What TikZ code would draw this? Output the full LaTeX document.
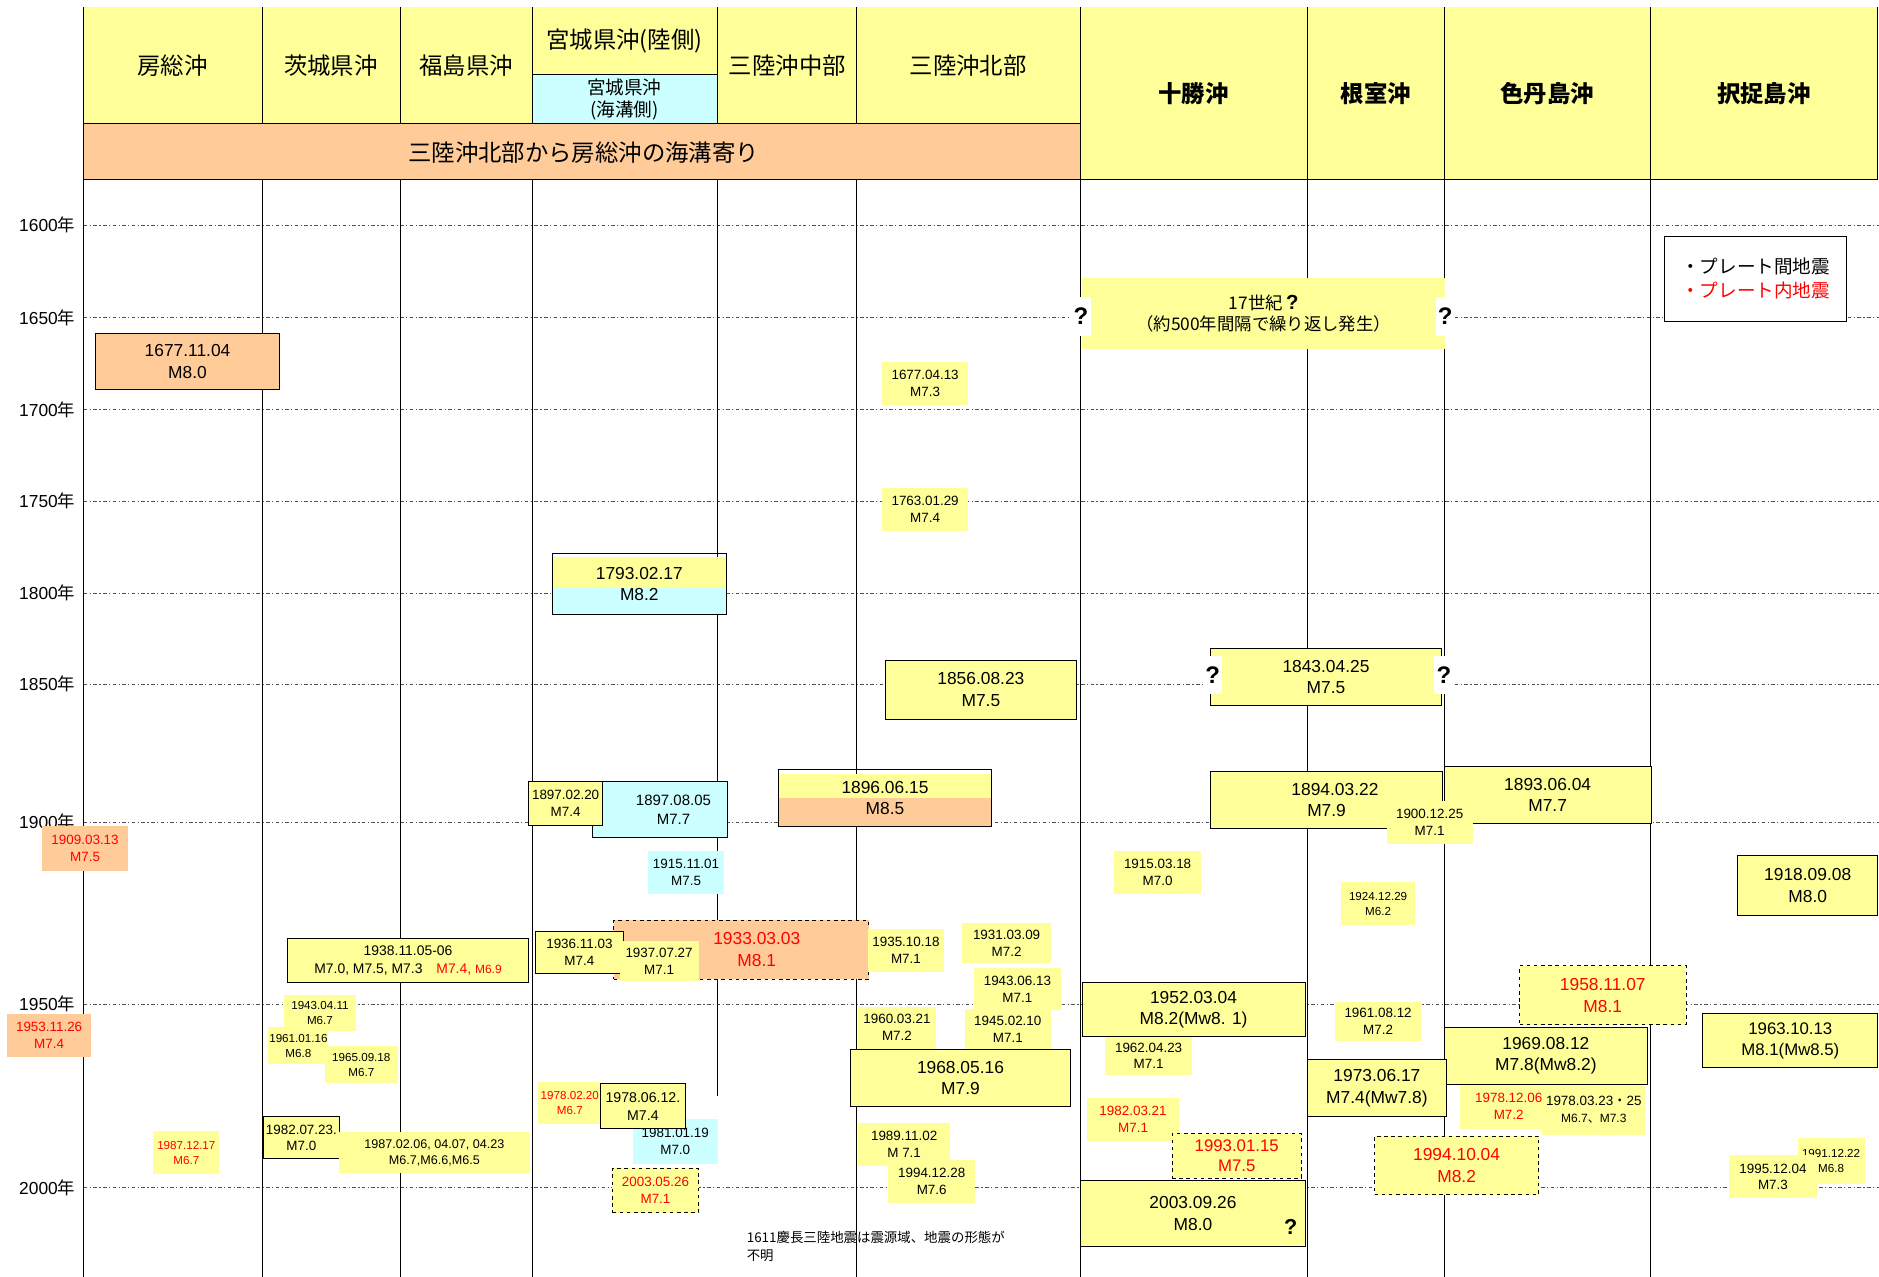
\documentclass[tikz,border=0pt]{standalone}
\usepackage{fontspec}
\setmainfont{Liberation Sans}
\newfontfamily\jp{Noto Sans CJK JP}
\definecolor{cY}{HTML}{FFFF99}
\definecolor{cO}{HTML}{FFCC99}
\definecolor{cC}{HTML}{CCFFFF}
\definecolor{cG}{HTML}{505050}
\tikzset{
  ev/.style={inner sep=0pt, outer sep=0pt, align=center},
  yb/.style={fill=cY},
  ob/.style={fill=cO},
  cb/.style={fill=cC},
  bd/.style={draw=black, line width=0.8pt},
  dsh/.style={draw=black, dashed, line width=0.7pt},
  fL/.style={font=\fontsize{14.5}{18}\selectfont},
  fM/.style={font=\fontsize{12.5}{16}\selectfont},
  fS/.style={font=\fontsize{11.2}{14}\selectfont},
  fX/.style={font=\fontsize{9.7}{12.5}\selectfont},
  rd/.style={text=red},
  hdr/.style={font=\jp\fontsize{19.5}{23}\selectfont, inner sep=0pt},
  hdrb/.style={font=\jp\bfseries\fontsize{19.5}{23}\selectfont, inner sep=0pt},
  yrlab/.style={anchor=east, inner sep=0pt, font=\fontsize{14.5}{16}\selectfont},
  yrline/.style={draw=cG, line width=0.6pt, dash pattern=on 3pt off 2pt on 1pt off 2pt},
  vline/.style={draw=black, line width=0.8pt},
  qbox/.style={fill=white, inner xsep=2pt, inner ysep=0pt, minimum height=32pt, font=\bfseries\fontsize{20}{20}\selectfont},
}
\newcommand{\evt}[7]{\node[ev,#6,minimum width={#4-#2},minimum height={#5-#3}] (#1) at ({(#2+#4)/2},{(#3+#5)/2}) {#7};}
\newcommand{\qm}[3]{\node[qbox] (#1) at (#2,#3) {?};}
\begin{document}
\begin{tikzpicture}[x=1pt,y=-1pt]
\useasboundingbox (0,0) rectangle (1568,1065.6);
% ---------- header ----------
\fill[cY] (70,6) rectangle (1567,150);
\fill[cC] (444,62) rectangle (599,103);
\fill[cO] (70,103) rectangle (902,150);
\foreach \xx in {219,334,444,599,715} \draw[vline] (\xx,6) -- (\xx,103);
\draw[vline] (1567,6) -- (1567,150);
\draw[vline] (444,62) -- (599,62);
\draw[vline] (70,103) -- (902,103);
\draw[vline] (70,150) -- (1567,150);
\node[hdr] (h1) at (144,55) {房総沖};
\node[hdr] (h2) at (276,55) {茨城県沖};
\node[hdr] (h3) at (389,55) {福島県沖};
\node[hdr] (h4) at (521,34) {宮城県沖(陸側)};
\node[hdr, font=\jp\fontsize{15.5}{18.5}\selectfont, align=center] (h4b) at (521,83) {宮城県沖\\(海溝側)};
\node[hdr] (h5) at (657,55) {三陸沖中部};
\node[hdr] (h6) at (808,55) {三陸沖北部};
\node[hdr] (hband) at (487,127) {三陸沖北部から房総沖の海溝寄り};
\node[hdrb] (h7) at (996,78) {十勝沖};
\node[hdrb] (h8) at (1148,78) {根室沖};
\node[hdrb] (h9) at (1291,78) {色丹島沖};
\node[hdrb] (h10) at (1472,78) {択捉島沖};
% ---------- year grid ----------
\foreach \yy/\lab in {188/1600,265/1650,342/1700,418/1750,495/1800,571/1850,686/1900,838/1950,991/2000}{
  \draw[yrline] (70,\yy) -- (1568,\yy);
  \node[yrlab] (y\lab) at (63,\yy) {\lab{\jp 年}};
}
% ---------- vertical column lines ----------
\foreach \xx in {70,902,1091,1205,1377} \draw[vline] (\xx,6) -- (\xx,1066);
\foreach \xx in {219,334,444,715} \draw[vline] (\xx,150) -- (\xx,1066);
\draw[vline] (599,150) -- (599,915);
% ---------- events ----------
\evt{b1677a}{80}{278}{233}{325}{ob,bd,fL}{1677.11.04\\M8.0}
\evt{b1677b}{736}{302}{808}{338}{yb,fS}{1677.04.13\\M7.3}
\evt{b1763}{736}{407}{808}{443}{yb,fS}{1763.01.29\\M7.4}
\evt{b17c}{903}{232}{1206}{291}{yb,font=\jp\fontsize{14.5}{18}\selectfont}{17世紀{\rmfamily\bfseries\fontsize{17}{18}\selectfont\,?}\\（約500年間隔で繰り返し発生）}
\qm{q1}{902}{264}
\qm{q2}{1206}{264}
\evt{legend}{1389}{197}{1541}{268}{fill=white,bd,align=left,font=\jp\fontsize{15.5}{19.5}\selectfont}{・プレート間地震\\\textcolor{red}{・プレート内地震}}
\fill[cY] (461,465) rectangle (606,491);
\fill[cC] (461,491) rectangle (606,513);
\evt{b1793}{461}{462}{606}{513}{bd,fL}{1793.02.17\\M8.2}
\evt{b1856}{739}{551}{898}{600}{yb,bd,fL}{1856.08.23\\M7.5}
\evt{b1843}{1010}{541}{1203}{589}{yb,bd,fL}{1843.04.25\\M7.5}
\qm{q3}{1012}{563}
\qm{q4}{1205}{563}
\evt{b1897b}{494}{652}{607}{699}{cb,bd}{}
\node[ev,fM] (t1897b) at (562,676) {1897.08.05\\M7.7};
\evt{b1897a}{441}{652}{503}{689}{yb,bd,fS}{1897.02.20\\M7.4}
\fill[cY] (650,646) rectangle (827,666);
\fill[cO] (650,666) rectangle (827,690);
\evt{b1896}{650}{642}{827}{690}{bd,fL}{1896.06.15\\M8.5}
\evt{b1894}{1010}{644}{1204}{691}{yb,bd,fL}{\hspace*{14pt}1894.03.22\\M7.9}
\evt{b1893}{1205}{640}{1378}{687}{yb,bd,fL}{1893.06.04\\M7.7}
\evt{b1900}{1157}{668}{1229}{704}{yb,fS}{1900.12.25\\M7.1}
\evt{b1909}{35}{689}{107}{727}{ob,rd,fS}{1909.03.13\\M7.5}
\evt{b1915a}{541}{710}{604}{746}{cb,fS}{1915.11.01\\M7.5}
\evt{b1915b}{930}{710}{1002}{746}{yb,fS}{1915.03.18\\M7.0}
\evt{b1918}{1450}{714}{1567}{764}{yb,bd,fL}{1918.09.08\\M8.0}
\evt{b1924}{1119}{736}{1181}{772}{yb,fX}{1924.12.29\\M6.2}
\evt{b1931}{803}{770}{877}{804}{yb,fS}{1931.03.09\\M7.2}
\evt{b1933}{512}{768}{725}{817}{ob,dsh,rd,fL}{\hspace*{26pt}1933.03.03\\\hspace*{26pt}M8.1}
\evt{b1936}{447}{777}{520}{812}{yb,bd,fS}{1936.11.03\\M7.4}
\evt{b1937}{517}{785}{583}{819}{yb,fS}{1937.07.27\\M7.1}
\evt{b1935}{724}{775}{788}{811}{yb,fS}{1935.10.18\\M7.1}
\evt{b1938}{240}{783}{441}{820}{yb,bd,font=\fontsize{11.6}{15}\selectfont}{1938.11.05-06\\M7.0, M7.5, M7.3\quad\textcolor{red}{M7.4, {\fontsize{10}{12}\selectfont M6.9}}}
\evt{b1943a}{813}{808}{885}{843}{yb,fS}{1943.06.13\\M7.1}
\evt{b1943b}{237}{830}{297}{860}{yb,fX}{1943.04.11\\M6.7}
\evt{b1952}{903}{820}{1089}{865}{yb,bd,fL}{1952.03.04\\M8.2(Mw8. 1)}
\evt{b1953}{6}{846}{76}{882}{ob,rd,fS}{1953.11.26\\M7.4}
\evt{b1958}{1268}{806}{1407}{855}{yb,dsh,rd,fL}{1958.11.07\\M8.1}
\evt{b1960}{716}{840}{781}{875}{yb,fS}{1960.03.21\\M7.2}
\evt{b1945}{805}{842}{877}{876}{yb,fS}{1945.02.10\\M7.1}
\evt{b1961a}{224}{857}{274}{888}{yb,fX}{1961.01.16\\M6.8}
\evt{b1965}{271}{873}{332}{904}{yb,fX}{1965.09.18\\M6.7}
\evt{b1961b}{1114}{836}{1186}{869}{yb,fS}{1961.08.12\\M7.2}
\evt{b1963}{1421}{846}{1567}{891}{yb,bd,font=\fontsize{14}{18}\selectfont}{1963.10.13\\M8.1(Mw8.5)}
\evt{b1962}{922}{865}{995}{897}{yb,fS}{1962.04.23\\M7.1}
\evt{b1968}{710}{876}{893}{923}{yb,bd,fL}{1968.05.16\\M7.9}
\evt{b1969}{1205}{857}{1375}{905}{yb,bd,fL}{1969.08.12\\M7.8(Mw8.2)}
\evt{b1973}{1091}{884}{1207}{932}{yb,bd,fL}{1973.06.17\\M7.4(Mw7.8)}
\evt{b1978a}{449}{903}{502}{938}{yb,rd,fX}{1978.02.20\\M6.7}
\evt{b1981}{528}{934}{599}{971}{cb,fS}{1981.01.19\\M7.0}
\evt{b1978b}{501}{904}{572}{942}{yb,bd,font=\fontsize{11.8}{15}\selectfont}{1978.06.12.\\M7.4}
\evt{b1982a}{907}{916}{984}{952}{yb,rd,fS}{1982.03.21\\M7.1}
\evt{b1978c}{1218}{905}{1300}{942}{yb,rd,fS}{1978.12.06\\M7.2}
\evt{b1978d}{1287}{905}{1373}{947}{yb,fS}{1978.03.23{\jp ・}25\\{\fontsize{10}{12}\selectfont M6.7{\jp 、}M7.3}}
\evt{b1982b}{220}{932}{283}{967}{yb,bd,fS}{1982.07.23.\\M7.0}
\evt{b1987a}{283}{945}{442}{979}{yb,font=\fontsize{10.5}{13.5}\selectfont}{1987.02.06, 04.07, 04.23\\M6.7,M6.6,M6.5}
\evt{b1987b}{128}{944}{183}{980}{yb,rd,fX}{1987.12.17\\M6.7}
\evt{b1989}{716}{937}{793}{973}{yb,fS}{1989.11.02\\M 7.1}
\evt{b1994a}{741}{968}{814}{1004}{yb,fS}{1994.12.28\\M7.6}
\evt{b1993}{978}{946}{1086}{983}{yb,dsh,rd,font=\fontsize{14}{17}\selectfont}{1993.01.15\\M7.5}
\evt{b1994b}{1147}{948}{1284}{997}{yb,dsh,rd,fL}{1994.10.04\\M8.2}
\evt{b1991}{1500}{950}{1556}{988}{yb,fX}{1991.12.22\\M6.8}
\evt{b1995}{1443}{964}{1516}{1000}{yb,fS}{1995.12.04\\M7.3}
\evt{b2003a}{511}{975}{583}{1012}{yb,dsh,rd,fS}{2003.05.26\\M7.1}
\evt{b2003b}{902}{985}{1089}{1040}{yb,bd,fL}{2003.09.26\\M8.0}
\node[inner sep=0pt, font=\bfseries\fontsize{18}{18}\selectfont] (q5) at (1077,1024) {?};
\node[anchor=west, align=left, inner sep=0pt, font=\jp\fontsize{11.2}{14.5}\selectfont] (note) at (623,1040) {1611慶長三陸地震は震源域、地震の形態が\\不明};
\end{tikzpicture}
\end{document}
